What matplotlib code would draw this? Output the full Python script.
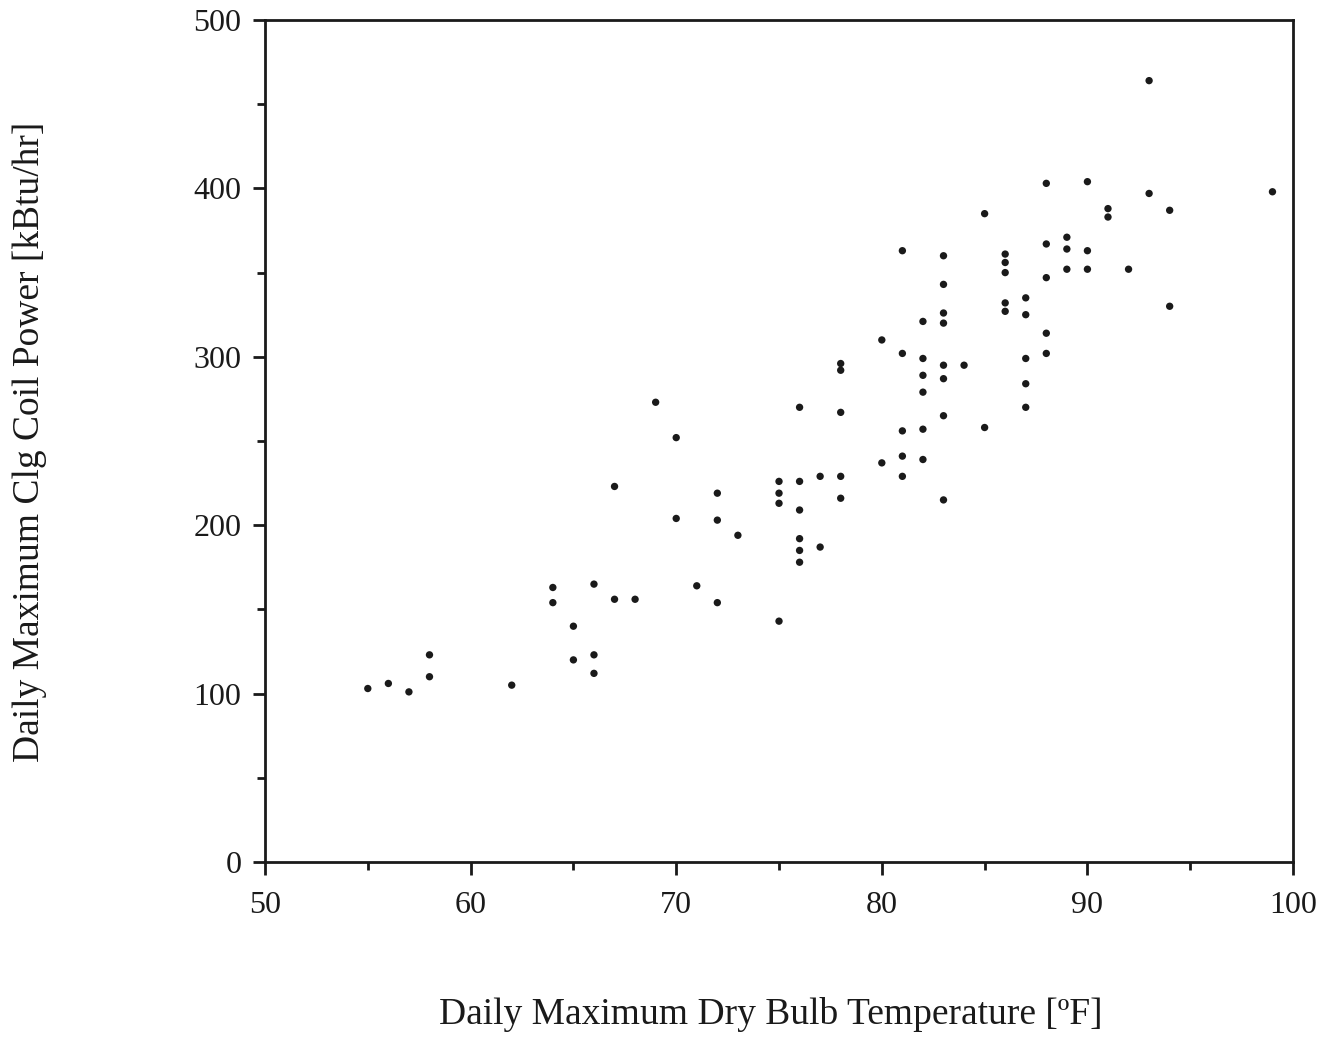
import matplotlib
matplotlib.use("Agg")
import matplotlib.pyplot as plt
from matplotlib.ticker import MultipleLocator

temp_f = [55, 56, 57, 58, 58, 62, 64, 64, 65, 65, 66, 66, 66, 67, 68, 67, 69, 70, 70, 71,
          72, 72, 72, 73, 75, 75, 75, 75, 76, 76, 76, 76, 76, 76, 77, 77, 78, 78, 78, 78,
          78, 80, 80, 81, 81, 81, 81, 81, 82, 82, 82, 82, 82, 82, 83, 83, 83, 83, 83, 83,
          83, 83, 84, 85, 85, 86, 86, 86, 86, 86, 87, 87, 87, 87, 87, 88, 88, 88, 88, 88,
          89, 89, 89, 90, 90, 90, 91, 91, 92, 93, 93, 94, 94, 99]
power_kbtu = [103, 106, 101, 123, 110, 105, 163, 154, 140, 120, 165, 123, 112, 156, 156, 223, 273, 252, 204, 164,
              219, 203, 154, 194, 226, 219, 213, 143, 270, 226, 209, 192, 185, 178, 229, 187, 267, 296, 292, 229,
              216, 310, 237, 363, 302, 256, 241, 229, 321, 299, 289, 279, 257, 239, 360, 343, 326, 320, 295, 287,
              265, 215, 295, 385, 258, 361, 356, 350, 332, 327, 335, 325, 299, 284, 270, 403, 367, 347, 314, 302,
              371, 364, 352, 404, 363, 352, 388, 383, 352, 464, 397, 387, 330, 398]

x_ticks = [50, 60, 70, 80, 90, 100]
y_ticks = [0, 100, 200, 300, 400, 500]

plt.rcParams['font.family'] = ['Liberation Serif', 'DejaVu Serif']

fig = plt.figure(figsize=(13.27, 10.37), dpi=100)
ax = fig.add_axes([0.1997, 0.1688, 0.7747, 0.8119])

ax.scatter(temp_f, power_kbtu, s=28, color='#1a1a1a', edgecolors='none', zorder=3)

ax.set_xlim(50, 100)
ax.set_ylim(0, 500)
ax.set_xticks(x_ticks)
ax.set_yticks(y_ticks)
ax.xaxis.set_minor_locator(MultipleLocator(5))
ax.yaxis.set_minor_locator(MultipleLocator(50))

for s in ax.spines.values():
    s.set_linewidth(2.0)
    s.set_color('#1a1a1a')

ax.tick_params(which='major', direction='out', length=9, width=2, labelsize=23,
               colors='#1a1a1a')
ax.tick_params(which='minor', direction='out', length=6, width=2, colors='#1a1a1a')
ax.tick_params(axis='x', which='major', pad=12)
ax.tick_params(axis='y', which='major', pad=8)

fig.text(771 / 1327, 1 - 1015 / 1037, 'Daily Maximum Dry Bulb Temperature [ºF]',
         fontsize=27, ha='center', va='center', color='#1a1a1a')
fig.text(30 / 1327, 1 - 442 / 1037, 'Daily Maximum Clg Coil Power [kBtu/hr]',
         fontsize=27, ha='center', va='center', rotation=90, color='#1a1a1a')

fig.savefig('out.png', dpi=100, facecolor='white')
